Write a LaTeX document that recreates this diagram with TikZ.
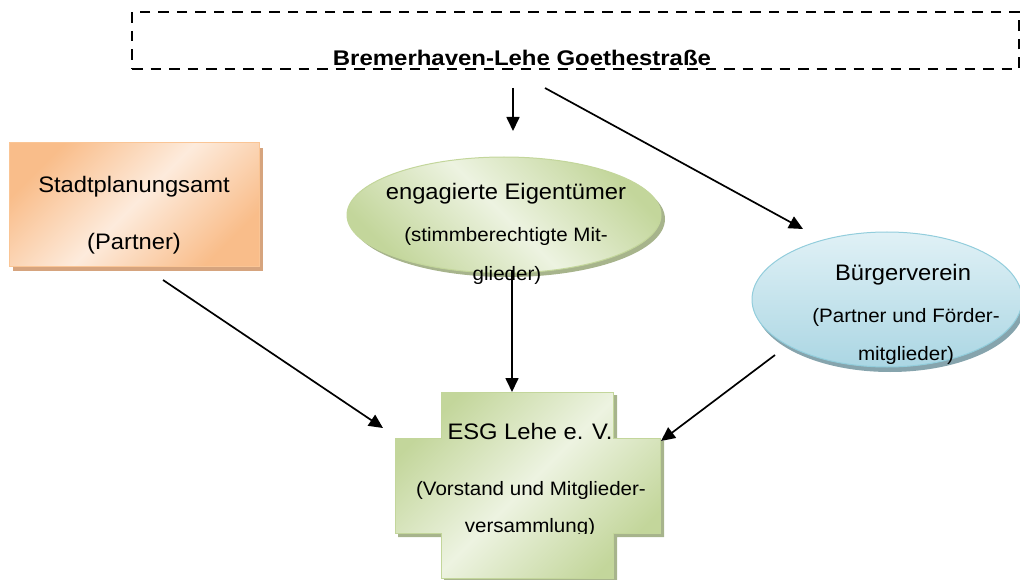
\documentclass[tikz,border=0pt]{standalone}
\usepackage{fontspec}
\setmainfont{Liberation Sans}[FakeStretch=1.06]
\newfontfamily\titlefont{Liberation Sans}[FakeStretch=1.13]
\usetikzlibrary{arrows.meta,shadows,shapes.geometric}
\definecolor{orDark}{HTML}{F9BD8A}
\definecolor{orLight}{HTML}{FDEBDC}
\definecolor{orLine}{HTML}{FAC595}
\definecolor{orShadow}{HTML}{D6A47E}
\definecolor{grDark}{HTML}{C3D69B}
\definecolor{grLight}{HTML}{EDF3E1}
\definecolor{grLine}{HTML}{C3D69B}
\definecolor{grShadow}{HTML}{A7B48C}
\definecolor{blDark}{HTML}{ABD6E3}
\definecolor{blLight}{HTML}{E0F1F6}
\definecolor{blLine}{HTML}{92CDDC}
\definecolor{blShadow}{HTML}{86A4AD}
\begin{document}
\begin{tikzpicture}[x=1pt,y=-1pt,
  conn/.style={line width=1.7pt, -{Triangle[length=14pt,width=13pt]}},
  maintext/.style={anchor=base, inner sep=0pt, font=\fontsize{22.4}{26}\selectfont},
  subtext/.style={anchor=base, inner sep=0pt, font=\fontsize{19.4}{23}\selectfont},
  frame/.style={draw=black, line width=2.9pt, dash pattern=on 10.5pt off 8pt, inner sep=0pt},
  orangebox/.style={rectangle, inner sep=0pt, draw=orLine, line width=1pt,
    top color=orDark, bottom color=orDark, middle color=orLight, shading angle=45,
    general shadow={fill=orShadow, shadow xshift=4pt, shadow yshift=-5pt}},
  greenell/.style={ellipse, inner sep=0pt, draw=grLine, line width=1pt,
    top color=grDark, bottom color=grDark, middle color=grLight, shading angle=-45,
    general shadow={fill=grShadow, shadow xshift=4pt, shadow yshift=-4pt}},
  blueell/.style={ellipse, inner sep=0pt, draw=blLine, line width=1pt,
    top color=blLight, bottom color=blDark, shading angle=0,
    general shadow={fill=blShadow, shadow xshift=3pt, shadow yshift=-5pt}},
  crossfill/.style={draw=grLine, line width=1pt,
    top color=grDark, bottom color=grDark, middle color=grLight, shading angle=45},
]
\useasboundingbox (0,0) rectangle (1020,580);

% top dashed frame with title
\node[frame, minimum width=887pt, minimum height=57pt] (frame) at (575.5,40.5) {};
\node[anchor=base, inner sep=0pt, font=\titlefont\bfseries\fontsize{21.2}{25}\selectfont]
  (title) at (522,66) {Bremerhaven-Lehe Goethestraße};

% Stadtplanungsamt
\node[orangebox, minimum width=250pt, minimum height=123pt] (stadt) at (134,204.5) {};
\node[maintext] (stadtT1) at (134,193) {Stadtplanungsamt};
\node[maintext] (stadtT2) at (134,249) {(Partner)};

% engagierte Eigentuemer
\node[greenell, minimum width=314pt, minimum height=116pt] (eig) at (504,215) {};
\node[maintext] (eigT1) at (506,200) {engagierte Eigentümer};
\node[subtext] (eigT2) at (506,242) {(stimmberechtigte Mit-};

% Buergerverein
\node[blueell, minimum width=270pt, minimum height=135pt] (bue) at (887,299.5) {};
\node[maintext] (bueT1) at (903,280) {Bürgerverein};
\node[subtext] (bueT2) at (906,322) {(Partner und Förder-};
\node[subtext] (bueT3) at (906,360) {mitglieder)};

% ESG cross
\fill[grShadow] (444,395) -- (617,395) -- (617,441) -- (664,441) -- (664,537)
  -- (617,537) -- (617,582) -- (444,582) -- (444,537) -- (398,537) -- (398,441)
  -- (444,441) -- cycle;
\path[crossfill] (441,392) -- (613,392) -- (613,438) -- (660,438) -- (660,533)
  -- (613,533) -- (613,578) -- (441,578) -- (441,533) -- (395,533) -- (395,438)
  -- (441,438) -- cycle;
\node[inner sep=0pt, minimum width=172pt, minimum height=186pt] (esg) at (527,485) {};
\node[maintext] (esgT1) at (530,439) {ESG Lehe e. V.};
\node[subtext] (esgT2) at (531,495) {(Vorstand und Mitglieder-};
\begin{scope}
  \clip (0,0) rectangle (1020,533);
  \node[subtext] (esgT3) at (530,532) {versammlung)};
\end{scope}

% connector end points
\coordinate (tA) at (513,88);   \coordinate (tAe) at (513,131);
\coordinate (tB) at (545,88);   \coordinate (tBe) at (803,229);
\coordinate (sA) at (163,280);  \coordinate (sAe) at (383,428);
\coordinate (eA) at (512,270);  \coordinate (eAe) at (512,392);
\coordinate (bA) at (775,355);  \coordinate (bAe) at (661,441);

\draw[conn] (tA) -- (tAe);
\draw[conn] (tB) -- (tBe);
\draw[conn] (sA) -- (sAe);
\draw[conn] (eA) -- (eAe);
\draw[conn] (bA) -- (bAe);

% text over the connector
\node[subtext] (eigT3) at (507,280) {glieder)};
\end{tikzpicture}
\end{document}
